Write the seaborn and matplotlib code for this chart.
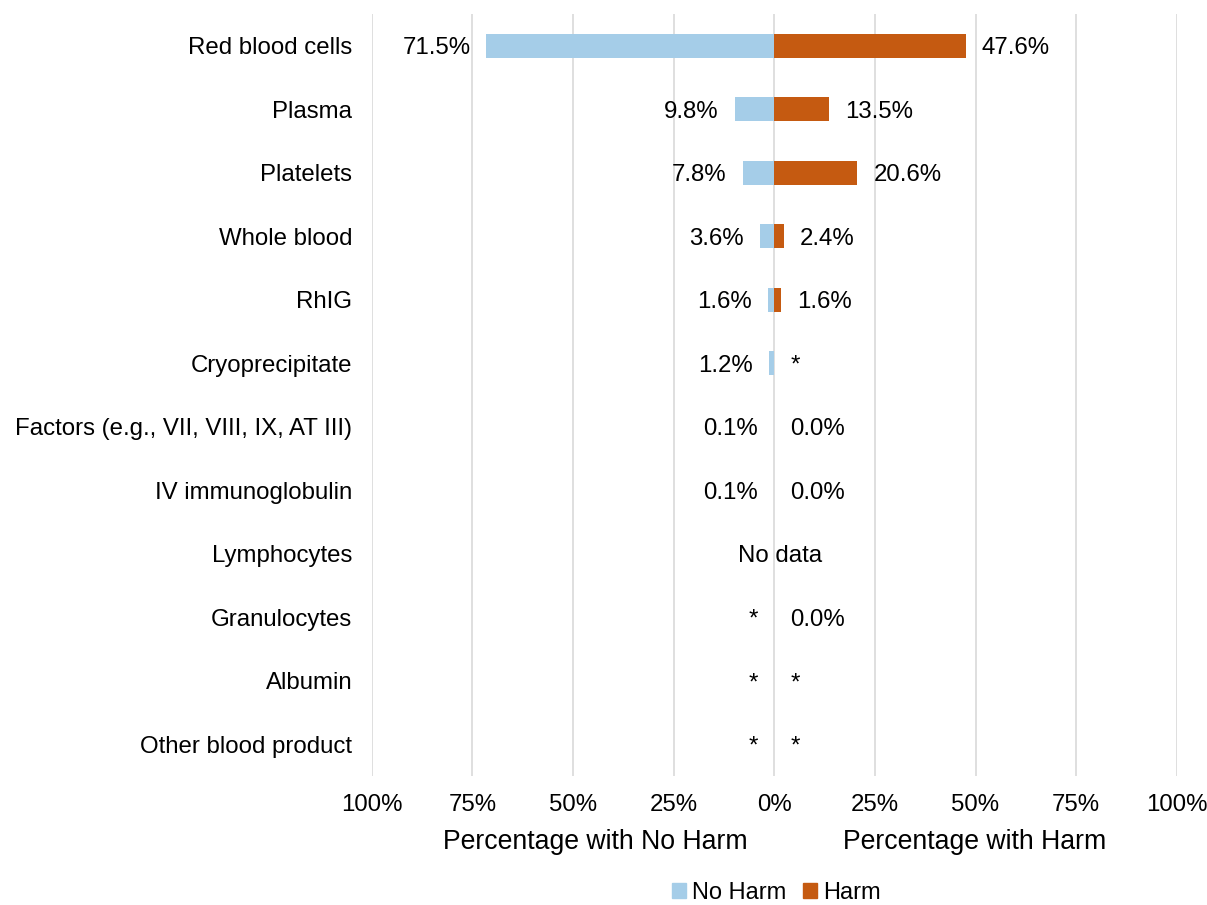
import numpy as np
import pandas as pd
import matplotlib
matplotlib.use("Agg")
import matplotlib.pyplot as plt
import seaborn as sns
from matplotlib.patches import Patch

products = ["Red blood cells", "Plasma", "Platelets", "Whole blood", "RhIG",
            "Cryoprecipitate", "Factors (e.g., VII, VIII, IX, AT III)",
            "IV immunoglobulin", "Lymphocytes", "Granulocytes", "Albumin",
            "Other blood product"]
no_harm = [71.5, 9.8, 7.8, 3.6, 1.6, 1.2, 0.1, 0.1, np.nan, np.nan, np.nan, np.nan]
harm = [47.6, 13.5, 20.6, 2.4, 1.6, np.nan, 0.0, 0.0, np.nan, 0.0, np.nan, np.nan]
no_harm_labels = ["71.5%", "9.8%", "7.8%", "3.6%", "1.6%", "1.2%", "0.1%", "0.1%",
                  "", "*", "*", "*"]
harm_labels = ["47.6%", "13.5%", "20.6%", "2.4%", "1.6%", "*", "0.0%", "0.0%",
               "", "0.0%", "*", "*"]
ticks = [-100, -75, -50, -25, 0, 25, 50, 75, 100]
tick_labels = ["100%", "75%", "50%", "25%", "0%", "25%", "50%", "75%", "100%"]

blue = "#A5CDE8"
orange = "#C55A11"
fs = 17.3

sns.set_style("white")
plt.rcParams["font.family"] = ["Liberation Sans", "DejaVu Sans"]
plt.rcParams["text.color"] = "black"
plt.rcParams["xtick.color"] = "black"
plt.rcParams["ytick.color"] = "black"

df = pd.DataFrame({
    "product": products * 2,
    "value": [-v for v in no_harm] + harm,
    "group": ["No Harm"] * len(products) + ["Harm"] * len(products),
})

fig = plt.figure(figsize=(12.07, 9.05), dpi=100)
ax = fig.add_axes([0.308, 0.1425, 0.667, 0.842])

sns.barplot(data=df, y="product", x="value", hue="group", orient="h",
            dodge=False, palette={"No Harm": blue, "Harm": orange},
            saturation=1, width=0.38, order=products, ax=ax, legend=False,
            linewidth=0, zorder=3)

ax.set_xlim(-100, 100)
ax.set_xticks(ticks)
ax.set_xticklabels(tick_labels, fontsize=fs)
ax.tick_params(axis="y", labelsize=fs, pad=14, length=0)
ax.tick_params(axis="x", pad=13, length=0)
ax.set_ylabel("")
ax.set_xlabel("")
for s in ax.spines.values():
    s.set_visible(False)
ax.xaxis.grid(True, color="#D9D9D9", linewidth=1.2, zorder=0)
ax.set_axisbelow(True)

# data labels
for i in range(len(products)):
    v = 0 if np.isnan(no_harm[i]) else no_harm[i]
    ax.text(-v - 4, i, no_harm_labels[i], ha="right", va="center_baseline",
            fontsize=fs)
    v = 0 if np.isnan(harm[i]) else harm[i]
    ax.text(v + 4, i, harm_labels[i], ha="left", va="center_baseline", fontsize=fs)
ax.text(1.5, products.index("Lymphocytes"), "No data", ha="center",
        va="center_baseline", fontsize=fs)

fig.text(595 / 1207, 1 - 842 / 905, "Percentage with No Harm", ha="center",
         va="center", fontsize=19.2)
fig.text(975 / 1207, 1 - 842 / 905, "Percentage with Harm", ha="center",
         va="center", fontsize=19.2)

handles = [Patch(color=blue, label="No Harm"), Patch(color=orange, label="Harm")]
fig.legend(handles=handles, loc="center", bbox_to_anchor=(776 / 1207, 1 - 893 / 905),
           ncol=2, frameon=False, fontsize=17, handlelength=0.6, handleheight=0.6,
           handletextpad=0.25, columnspacing=0.7)

fig.savefig("out.png", dpi=100)
